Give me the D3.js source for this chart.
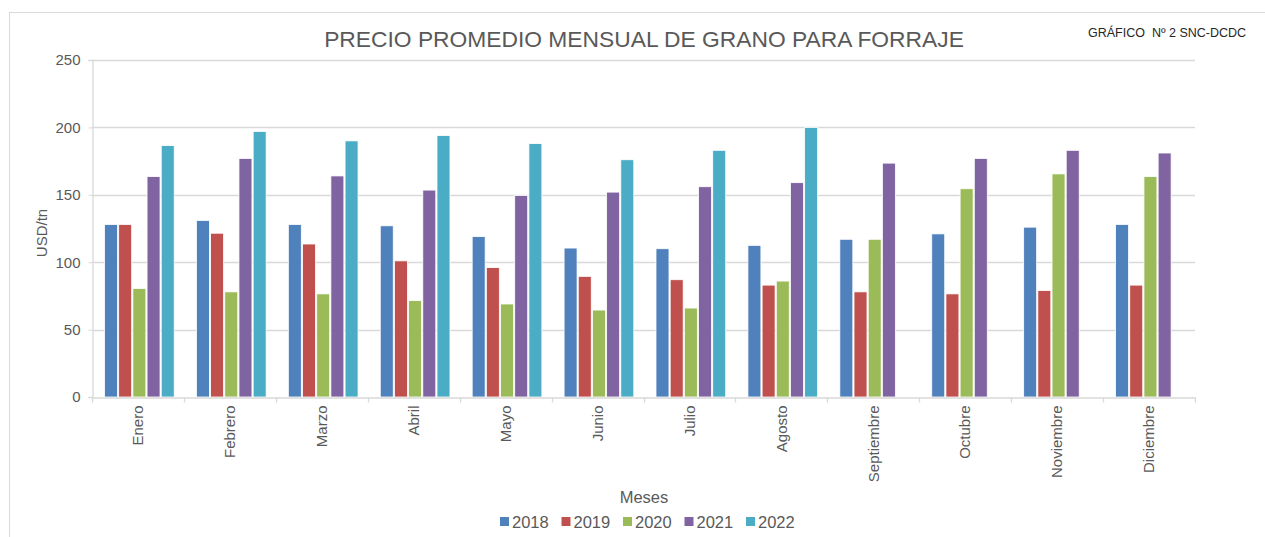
<!DOCTYPE html>
<meta charset="utf-8">
<script src="https://d3js.org/d3.v7.min.js"></script>
<style>
  body { margin: 0; background: #fff; }
  text { font-family: "Liberation Sans", Arial, sans-serif; }
</style>
<div id="chart"></div>
<script>

var meses = ["Enero", "Febrero", "Marzo", "Abril", "Mayo", "Junio", "Julio",
             "Agosto", "Septiembre", "Octubre", "Noviembre", "Diciembre"];
var anios = ["2018", "2019", "2020", "2021", "2022"];

// USD/tn por mes (null = sin dato)
var v2018 = [128, 131, 128, 127, 119, 110.5, 110, 112.5, 117, 121, 126, 128];
var v2019 = [128, 121.5, 113.5, 101, 96, 89.5, 87, 83, 78, 76.5, 79, 83];
var v2020 = [80.5, 78, 76.5, 71.5, 69, 64.5, 66, 86, 117, 154.5, 165.5, 163.5];
var v2021 = [163.5, 177, 164, 153.5, 149.5, 152, 156, 159, 173.5, 177, 183, 181];
var v2022 = [186.5, 197, 190, 194, 188, 176, 183, 200, null, null, null, null];
var yTicks = [0, 50, 100, 150, 200, 250];

var series = [v2018, v2019, v2020, v2021, v2022];
var colores = ["#4F81BD", "#C0504D", "#9BBB59", "#8064A2", "#4BACC6"];

var W = 1265, H = 537;
var margin = {top: 60, left: 92, right: 70, bottom: 140};
var width = W - margin.left - margin.right,
    height = H - margin.top - margin.bottom;

var svg = d3.select("#chart").append("svg")
  .attr("width", W).attr("height", H);

// chart border (only left/top visible in the frame)
svg.append("rect")
  .attr("x", 9.5).attr("y", 12.5)
  .attr("width", W + 20).attr("height", H + 20)
  .attr("fill", "none").attr("stroke", "#d9d9d9");

var g = svg.append("g")
  .attr("transform", "translate(" + margin.left + "," + margin.top + ")");

var x0 = d3.scaleBand().domain(meses).range([0, width]);
var x1 = d3.scaleBand().domain(anios)
  .range([12.5, x0.bandwidth() - 8.5]);
var y = d3.scaleLinear().domain([0, 250]).range([height, 0]);

// gridlines
g.append("g")
  .selectAll("line")
  .data(yTicks.slice(1))
  .enter().append("line")
    .attr("x1", 0).attr("x2", width)
    .attr("y1", function(d) { return Math.round(y(d)) + 0.5; })
    .attr("y2", function(d) { return Math.round(y(d)) + 0.5; })
    .attr("stroke", "#d9d9d9").attr("stroke-width", 1.3);

// y axis
var yAxis = g.append("g")
  .attr("transform", "translate(0.5,0)")
  .call(d3.axisLeft(y).tickValues(yTicks).tickSize(4).tickPadding(8));
yAxis.select(".domain").attr("stroke", "#d9d9d9").attr("stroke-width", 1.3);
yAxis.selectAll(".tick line").attr("stroke", "#d9d9d9");
yAxis.selectAll("text").attr("fill", "#595959").style("font-size", "15px");

// bars
var grupos = g.append("g")
  .selectAll("g")
  .data(meses)
  .enter().append("g")
    .attr("transform", function(d) { return "translate(" + x0(d) + ",0)"; });

grupos.selectAll("rect")
  .data(function(m, i) {
    return anios.map(function(a, j) { return {anio: a, v: series[j][i], c: colores[j]}; })
      .filter(function(d) { return d.v != null; });
  })
  .enter().append("rect")
    .attr("x", function(d) { return x1(d.anio); })
    .attr("y", function(d) { return y(d.v); })
    .attr("width", x1.bandwidth() - 1.2)
    .attr("height", function(d) { return height - y(d.v); })
    .attr("fill", function(d) { return d.c; })
    .attr("stroke", "#fff").attr("stroke-width", 0.8);

// x axis
var xAxis = g.append("g")
  .attr("transform", "translate(0," + (height + 0.5) + ")")
  .call(d3.axisBottom(x0).tickSize(0).tickPadding(0));
xAxis.select(".domain").attr("stroke", "#d9d9d9").attr("stroke-width", 1.3);
xAxis.selectAll("text")
  .attr("fill", "#595959")
  .style("font-size", "15px")
  .attr("text-anchor", "end")
  .attr("dy", "0.35em")
  .attr("transform", "translate(0,8) rotate(-90)")
  .attr("y", 0).attr("x", 0);
// category separators
xAxis.append("g").selectAll("line")
  .data(d3.range(13))
  .enter().append("line")
    .attr("x1", function(d) { return Math.round(d * x0.step()) + 0.5; })
    .attr("x2", function(d) { return Math.round(d * x0.step()) + 0.5; })
    .attr("y1", 0).attr("y2", 5)
    .attr("stroke", "#d9d9d9").attr("stroke-width", 1.3);

// titles
svg.append("text")
  .attr("x", 644).attr("y", 47)
  .attr("text-anchor", "middle")
  .attr("fill", "#595959")
  .style("font-size", "22.8px")
  .text("PRECIO PROMEDIO MENSUAL DE GRANO PARA FORRAJE");

svg.append("text")
  .attr("x", 1088).attr("y", 37)
  .attr("fill", "#262626")
  .style("font-size", "12.5px")
  .style("white-space", "pre")
  .text("GRÁFICO  Nº 2 SNC-DCDC");

svg.append("text")
  .attr("transform", "translate(47,233) rotate(-90)")
  .attr("text-anchor", "middle")
  .attr("fill", "#595959")
  .style("font-size", "15px")
  .text("USD/tn");

svg.append("text")
  .attr("x", 644).attr("y", 503)
  .attr("text-anchor", "middle")
  .attr("fill", "#595959")
  .style("font-size", "16.5px")
  .text("Meses");

// legend
var leg = svg.append("g").attr("transform", "translate(500,522)");
var item = leg.selectAll("g")
  .data(anios)
  .enter().append("g")
    .attr("transform", function(d, i) { return "translate(" + (i * 61.5) + ",0)"; });
item.append("rect")
  .attr("x", 0).attr("y", -5).attr("width", 9).attr("height", 9)
  .attr("fill", function(d, i) { return colores[i]; });
item.append("text")
  .attr("x", 12).attr("y", 6)
  .attr("fill", "#595959")
  .style("font-size", "16.5px")
  .text(function(d) { return d; });

</script>
